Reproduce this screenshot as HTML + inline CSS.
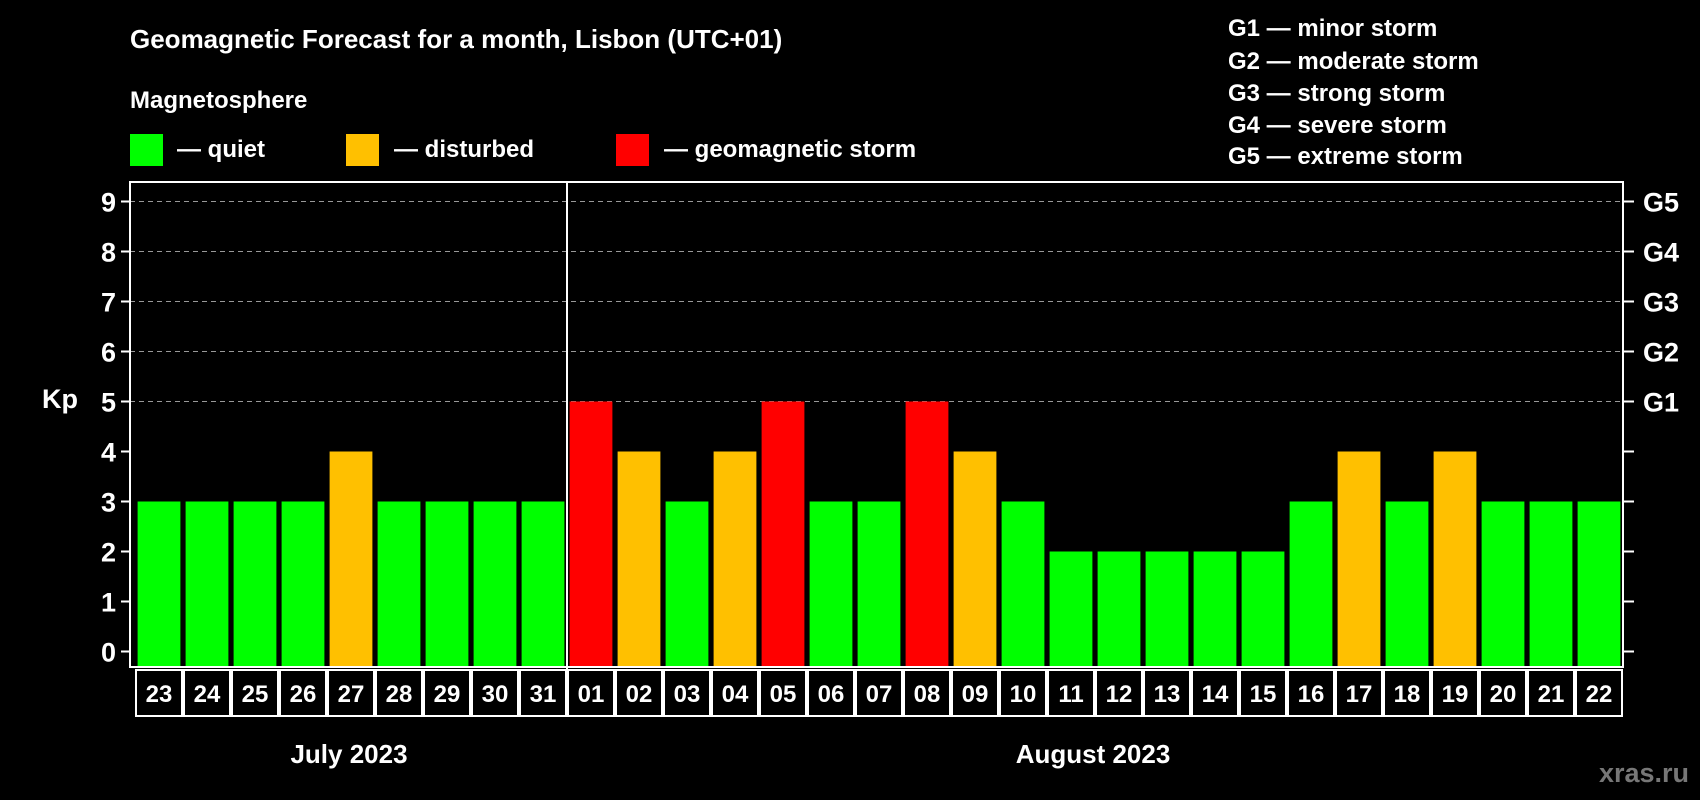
<!DOCTYPE html>
<html><head><meta charset="utf-8"><style>
html,body{margin:0;padding:0;background:#000;width:1700px;height:800px;overflow:hidden}
svg text{font-family:"Liberation Sans",Arial,sans-serif;font-weight:bold;fill:#fff}
</style></head><body>
<svg id="chart" width="1700" height="800" viewBox="0 0 1700 800" xmlns="http://www.w3.org/2000/svg">
<rect width="1700" height="800" fill="#000"/>
<text x="130" y="48" font-size="26">Geomagnetic Forecast for a month, Lisbon (UTC+01)</text>
<text x="130" y="108" font-size="24">Magnetosphere</text>
<g><rect x="130" y="134" width="33" height="32" fill="#00ff00"/><text x="177" y="157" font-size="24">— quiet</text></g>
<g><rect x="346" y="134" width="33" height="32" fill="#ffc000"/><text x="394" y="157" font-size="24">— disturbed</text></g>
<g><rect x="616" y="134" width="33" height="32" fill="#ff0000"/><text x="664" y="157" font-size="24">— geomagnetic storm</text></g>
<g font-size="24">
<text x="1228" y="36">G1 — minor storm</text>
<text x="1228" y="69">G2 — moderate storm</text>
<text x="1228" y="101">G3 — strong storm</text>
<text x="1228" y="133">G4 — severe storm</text>
<text x="1228" y="164">G5 — extreme storm</text>
</g>
<text x="42" y="408" font-size="27">Kp</text>
<g id="grid"></g><g id="bars"></g><g id="axes"></g>
<text x="349" y="763" font-size="26" text-anchor="middle">July 2023</text>
<text x="1093" y="763" font-size="26" text-anchor="middle">August 2023</text>
<text x="1689" y="782" font-size="27" text-anchor="end" style="fill:#777">xras.ru</text>
</svg>
<script>
const days = ["23","24","25","26","27","28","29","30","31","01","02","03","04","05","06","07","08","09","10","11","12","13","14","15","16","17","18","19","20","21","22"];
const kp = [3,3,3,3,4,3,3,3,3,5,4,3,4,5,3,3,5,4,3,2,2,2,2,2,3,4,3,4,3,3,3];
const yTicks = [0,1,2,3,4,5,6,7,8,9];
const gLabels = ["G1","G2","G3","G4","G5"];
const NS="http://www.w3.org/2000/svg";
const L=130,R=1623,T=182,B=667,y0=651.5,unit=50,step=48,x0=159;
const y=v=>y0-v*unit, xc=i=>x0+i*step;
function mk(tag,attrs,parent,txt){const e=document.createElementNS(NS,tag);for(const k in attrs)e.setAttribute(k,attrs[k]);if(txt!==undefined)e.textContent=txt;parent.appendChild(e);return e;}
const grid=document.getElementById('grid'),bars=document.getElementById('bars'),axes=document.getElementById('axes');
yTicks.forEach(v=>{
  if(v>=5){const g=mk('line',{x1:L,x2:R,y1:y(v),y2:y(v),stroke:'#999','stroke-width':1,'stroke-dasharray':'5,4'},grid);
  
  }
  mk('line',{x1:L-9,x2:L,y1:y(v),y2:y(v),stroke:'#fff','stroke-width':2},axes);
  mk('line',{x1:R,x2:R+11,y1:y(v),y2:y(v),stroke:'#fff','stroke-width':2},axes);
  const t=mk('text',{x:L-14,y:y(v)+10,'font-size':27,'text-anchor':'end'},axes,String(v));
  
  
});
gLabels.forEach((g,i)=>{const t=mk('text',{x:1643,y:y(5+i)+10,'font-size':27},axes,g);
  
  });
kp.forEach((v,i)=>{
  const c=v>=5?'#ff0000':(v>=4?'#ffc000':'#00ff00');
  const r=mk('rect',{x:xc(i)-21.4,y:y(v),width:42.8,height:B-y(v),fill:c},bars);
  
  
  const bx=mk('rect',{x:xc(i)-23,y:670,width:46,height:46,fill:'none',stroke:'#fff','stroke-width':2},axes);
  
  
  const t=mk('text',{x:xc(i),y:702,'font-size':24,'text-anchor':'middle'},axes,days[i]);
  
  
});
const frame=mk('rect',{x:L,y:T,width:R-L,height:B-T,fill:'none',stroke:'#fff','stroke-width':2},axes);


const dx=(xc(8)+xc(9))/2;
const div=mk('line',{x1:dx,x2:dx,y1:T,y2:716,stroke:'#fff','stroke-width':2},axes);


</script>
</body></html>
